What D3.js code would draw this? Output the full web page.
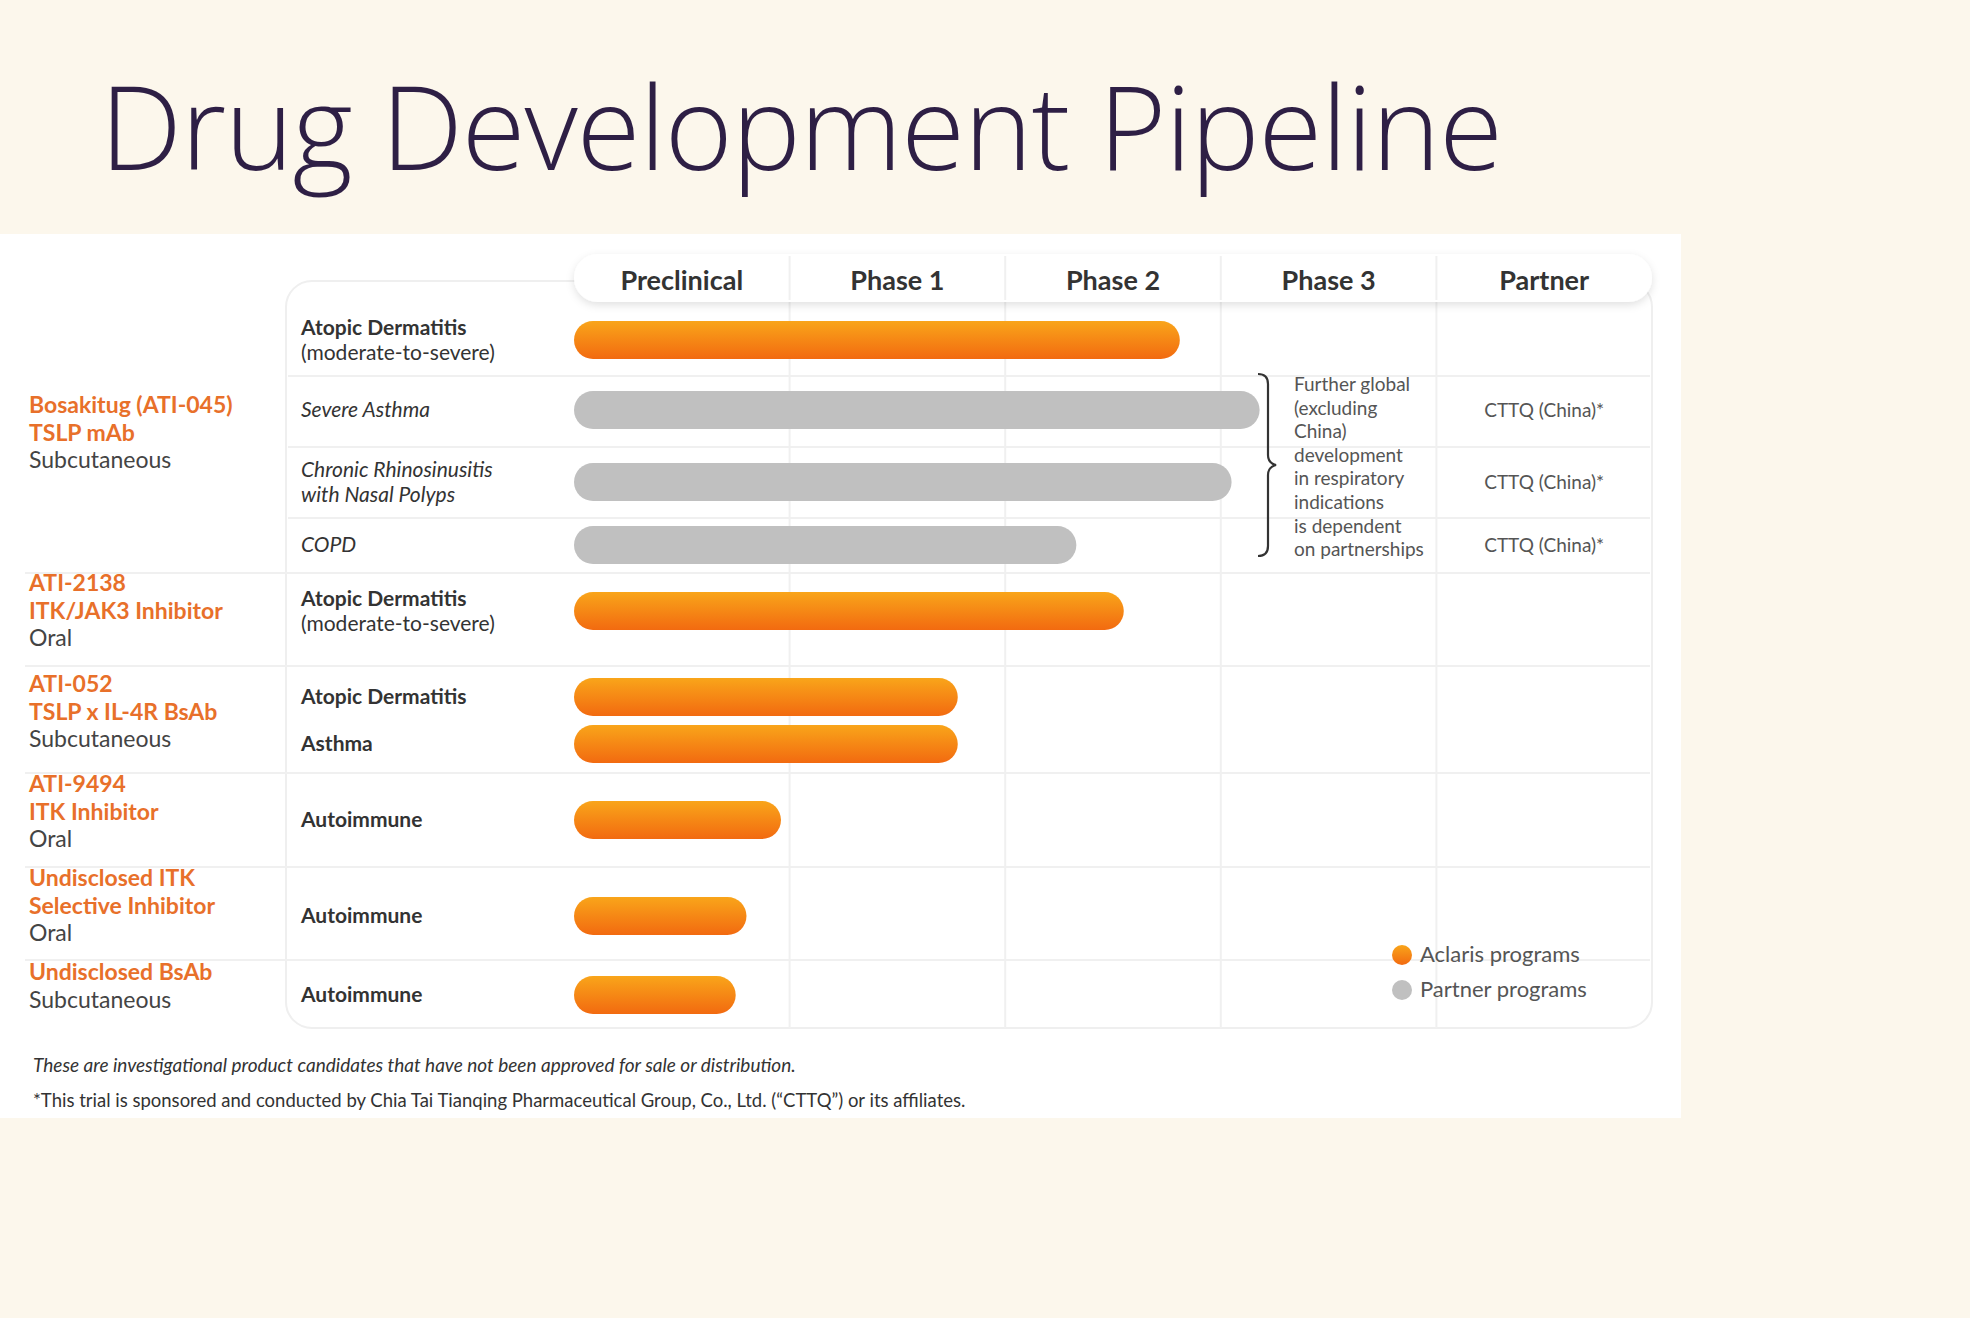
<!DOCTYPE html>
<html><head><meta charset="utf-8">
<script src="https://cdn.jsdelivr.net/npm/d3@7"></script>
<style>body{margin:0;background:#fcf7ec;}svg{display:block;font-family:Lato,"Open Sans",sans-serif;}</style>
</head><body><svg id="c" width="1970" height="1318"></svg>
<script>
const phases = ["Preclinical","Phase 1","Phase 2","Phase 3","Partner"];
// indication rows
const indications = [
  {label:["Atopic Dermatitis","(moderate-to-severe)"], style:"bold", value:2.81, type:"aclaris", partner:""},
  {label:["Severe Asthma"], style:"italic", value:3.18, type:"partner", partner:"CTTQ (China)*"},
  {label:["Chronic Rhinosinusitis","with Nasal Polyps"], style:"italic", value:3.05, type:"partner", partner:"CTTQ (China)*"},
  {label:["COPD"], style:"italic", value:2.33, type:"partner", partner:"CTTQ (China)*"},
  {label:["Atopic Dermatitis","(moderate-to-severe)"], style:"bold", value:2.55, type:"aclaris", partner:""},
  {label:["Atopic Dermatitis"], style:"bold", value:1.78, type:"aclaris", partner:""},
  {label:["Asthma"], style:"bold", value:1.78, type:"aclaris", partner:""},
  {label:["Autoimmune"], style:"bold", value:0.96, type:"aclaris", partner:""},
  {label:["Autoimmune"], style:"bold", value:0.80, type:"aclaris", partner:""},
  {label:["Autoimmune"], style:"bold", value:0.75, type:"aclaris", partner:""}
];
const rowCenters = [340,410,482,545,611,697,744,820,916,995];
const programs = [
  {lines:["Bosakitug (ATI-045)","TSLP mAb","Subcutaneous"], y:413},
  {lines:["ATI-2138","ITK/JAK3 Inhibitor","Oral"], y:591},
  {lines:["ATI-052","TSLP x IL-4R BsAb","Subcutaneous"], y:692},
  {lines:["ATI-9494","ITK Inhibitor","Oral"], y:792},
  {lines:["Undisclosed ITK","Selective Inhibitor","Oral"], y:886},
  {lines:["Undisclosed BsAb","Subcutaneous"], y:980}
];
const innerSeps = [376,447,518];
const groupSeps = [573,666,773,867,960];
const noteLines = ["Further global","(excluding","China)","development","in respiratory","indications","is dependent","on partnerships"];
const legendItems = [{label:"Aclaris programs",type:"aclaris"},{label:"Partner programs",type:"partner"}];
const footnotes = ["These are investigational product candidates that have not been approved for sale or distribution.",
 "*This trial is sponsored and conducted by Chia Tai Tianqing Pharmaceutical Group, Co., Ltd. (\u201cCTTQ\u201d) or its affiliates."];

const svg = d3.select("#c");
const defs = svg.append("defs");
const g1 = defs.append("linearGradient").attr("id","og").attr("x1",0).attr("y1",0).attr("x2",0).attr("y2",1);
g1.append("stop").attr("offset","0").attr("stop-color","#f9a51a");
g1.append("stop").attr("offset","1").attr("stop-color","#f26a10");
const sh = defs.append("filter").attr("id","sh").attr("x","-5%").attr("y","-30%").attr("width","110%").attr("height","180%");
sh.append("feDropShadow").attr("dx",0).attr("dy",3).attr("stdDeviation",4).attr("flood-color","#000").attr("flood-opacity",0.12);

svg.append("text").attr("x",100).attr("y",170).attr("font-family","'Open Sans',sans-serif").attr("font-weight",300)
  .attr("font-size",116).attr("fill","#2e1f45").attr("letter-spacing",-1).text("Drug Development Pipeline");

svg.append("rect").attr("x",0).attr("y",234).attr("width",1681).attr("height",884).attr("fill","#fff");

const x = d3.scaleLinear().domain([0,5]).range([574,1652]);
// table body
svg.append("rect").attr("x",286).attr("y",281).attr("width",1366).attr("height",747).attr("rx",26)
  .attr("fill","#fff").attr("stroke","#efefef").attr("stroke-width",2);
// vertical gridlines
svg.selectAll(".vg").data([1,2,3,4]).join("line").attr("x1",d=>x(d)).attr("x2",d=>x(d))
  .attr("y1",300).attr("y2",1028).attr("stroke","#f0f0f0").attr("stroke-width",2);
svg.selectAll(".is").data(innerSeps).join("line").attr("x1",288).attr("x2",1650).attr("y1",d=>d).attr("y2",d=>d)
  .attr("stroke","#f0f0f0").attr("stroke-width",2);
svg.selectAll(".gs").data(groupSeps).join("line").attr("x1",25).attr("x2",1650).attr("y1",d=>d).attr("y2",d=>d)
  .attr("stroke","#f0f0f0").attr("stroke-width",2);
// header pill
svg.append("rect").attr("x",574).attr("y",254).attr("width",1078).attr("height",48).attr("rx",24)
  .attr("fill","#fff").attr("filter","url(#sh)");
svg.selectAll(".hl").data([1,2,3,4]).join("line").attr("x1",d=>x(d)).attr("x2",d=>x(d))
  .attr("y1",256).attr("y2",300).attr("stroke","#f0f0f0").attr("stroke-width",2);
svg.selectAll(".ph").data(phases).join("text").attr("x",(d,i)=>x(i+0.5)).attr("y",290)
  .attr("text-anchor","middle").attr("font-size",27).attr("font-weight",700).attr("fill","#333").text(d=>d);

// bars
const bh = 38;
svg.selectAll(".bar").data(indications).join("rect")
  .attr("x",x(0)).attr("y",(d,i)=>rowCenters[i]-bh/2).attr("width",d=>x(d.value)-x(0)).attr("height",bh)
  .attr("rx",bh/2).attr("fill",d=>d.type==="aclaris"?"url(#og)":"#c0c0c0");

// indication labels
indications.forEach((d,i)=>{
  const n=d.label.length, y0=rowCenters[i]-(n-1)*12.5+7;
  d.label.forEach((t,j)=>{
    svg.append("text").attr("x",301).attr("y",y0+j*25).attr("font-size",21)
      .attr("font-weight",d.style==="bold"&&j===0?700:400).attr("font-style",d.style==="italic"?"italic":"normal")
      .attr("fill","#333").text(t);
  });
  if(d.partner) svg.append("text").attr("x",x(4.5)).attr("y",rowCenters[i]+7).attr("text-anchor","middle")
      .attr("font-size",19).attr("fill","#555").text(d.partner);
});

// program labels
programs.forEach(p=>{
  p.lines.forEach((t,j)=>{
    const last = j===p.lines.length-1;
    svg.append("text").attr("x",29).attr("y",p.y+j*27.5).attr("font-size",23)
      .attr("font-weight",last?400:700).attr("fill",last?"#444":"#e8702a").text(t);
  });
});

// brace
svg.append("path").attr("d","M1258,374 Q1268,374 1268,384 L1268,455 Q1268,463 1276,465 Q1268,467 1268,475 L1268,546 Q1268,556 1258,556")
  .attr("fill","none").attr("stroke","#333").attr("stroke-width",2.2);
svg.selectAll(".nt").data(noteLines).join("text").attr("x",1294).attr("y",(d,i)=>391+i*23.6)
  .attr("font-size",19).attr("fill","#555").text(d=>d);

// legend
const lg = svg.selectAll(".lg").data(legendItems).join("g").attr("transform",(d,i)=>`translate(1402,${955+i*35})`);
lg.append("circle").attr("r",10).attr("fill",d=>d.type==="aclaris"?"url(#og)":"#c0c0c0");
lg.append("text").attr("x",18).attr("y",7).attr("font-size",22).attr("fill","#555").text(d=>d.label);

svg.append("text").attr("x",33).attr("y",1072).attr("font-size",19).attr("font-style","italic").attr("fill","#333").text(footnotes[0]);
svg.append("text").attr("x",33).attr("y",1107).attr("font-size",18.5).attr("fill","#333").text(footnotes[1]);
</script></body></html>
